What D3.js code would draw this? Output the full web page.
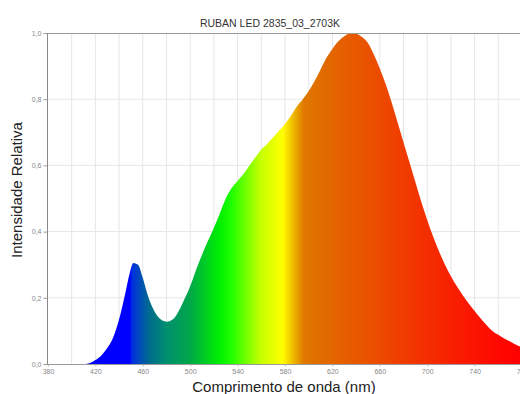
<!DOCTYPE html>
<html>
<head>
<meta charset="utf-8">
<script src="https://cdn.jsdelivr.net/npm/d3@7"></script>
<style>
  body { margin: 0; background: #fff; }
  svg { display: block; font-family: "Liberation Sans", Arial, sans-serif; }
</style>
</head>
<body>
<div class="area"></div>
<script>
var wavelength = [412, 416, 420, 425, 430, 435, 440, 445, 449, 452, 456, 460, 464, 468, 473, 480, 486, 490, 495,
  500, 505, 510, 515, 520, 525, 530, 535, 540, 545, 550, 555, 560, 565, 570, 575, 580, 585, 590, 595,
  600, 605, 610, 615, 620, 625, 630, 635, 640, 645, 650, 655, 660, 665, 670, 675, 680, 685, 690, 695,
  700, 705, 710, 715, 720, 725, 730, 735, 740, 745, 750, 755, 760, 765, 770, 775, 780];
var intensity = [0, 0.004, 0.012, 0.026, 0.048, 0.08, 0.135, 0.21, 0.275, 0.305, 0.3, 0.26, 0.21, 0.172, 0.142, 0.128, 0.137, 0.158, 0.195,
  0.235, 0.285, 0.33, 0.372, 0.412, 0.455, 0.5, 0.532, 0.553, 0.574, 0.6, 0.625, 0.648, 0.665, 0.685, 0.705, 0.725, 0.75, 0.778, 0.8,
  0.825, 0.855, 0.89, 0.925, 0.952, 0.975, 0.99, 0.999, 0.998, 0.988, 0.97, 0.935, 0.893, 0.845, 0.79, 0.73, 0.67, 0.61, 0.55, 0.49,
  0.435, 0.385, 0.34, 0.3, 0.265, 0.235, 0.208, 0.183, 0.16, 0.138, 0.118, 0.1, 0.088, 0.077, 0.068, 0.058, 0.05];
var xTicks = [380, 420, 460, 500, 540, 580, 620, 660, 700, 740, 780];
var yTicks = [0, 0.2, 0.4, 0.6, 0.8, 1.0];

// colour of the light at each wavelength
var stopNm = [380, 449, 451, 465, 480, 500, 525, 535, 560, 578, 586, 596, 610, 640, 680, 720, 760, 780];
var stopColor = ['#0000ff', '#0000ff', '#0030e0', '#006a90', '#008f6e', '#00a848', '#00f000', '#20ff00', '#c8ff00',
  '#ffff00', '#f0c000', '#e07800', '#e06c00', '#e85800', '#f03c00', '#f82000', '#ff0800', '#ff0000'];

var width = 520, height = 394;
var pLeft = 48, pRight = 522, pTop = 33, pBottom = 364;

var svg = d3.select(".area")
    .append("svg")
    .attr('width', width)
    .attr('height', height);

var x = d3.scaleLinear().domain([380, 780]).range([pLeft, pRight]);
var y = d3.scaleLinear().domain([0, 1]).range([pBottom, pTop]);

// grid
svg.append("g")
    .selectAll("line")
    .data(d3.range(400, 781, 20))
    .join("line")
    .attr("x1", d => x(d)).attr("x2", d => x(d))
    .attr("y1", pTop).attr("y2", pBottom)
    .style("stroke", "#e6e6e6")
    .style("stroke-width", 1);

svg.append("g")
    .selectAll("line")
    .data(yTicks.slice(1, -1))
    .join("line")
    .attr("x1", pLeft).attr("x2", pRight)
    .attr("y1", d => y(d)).attr("y2", d => y(d))
    .style("stroke", "#e6e6e6")
    .style("stroke-width", 1);

// spectrum gradient
var grad = svg.append("defs").append("linearGradient")
    .attr("id", "spectrum")
    .attr("gradientUnits", "userSpaceOnUse")
    .attr("x1", x(380)).attr("x2", x(780))
    .attr("y1", 0).attr("y2", 0);

grad.selectAll("stop")
    .data(stopNm)
    .join("stop")
    .attr("offset", d => (d - 380) / 400)
    .attr("stop-color", (d, i) => stopColor[i]);

var pts = wavelength.map((w, i) => [w, intensity[i]]);

var area = d3.area()
    .x(d => x(d[0]))
    .y0(y(0))
    .y1(d => y(d[1]))
    .curve(d3.curveMonotoneX);

svg.append("path")
    .datum(pts)
    .attr("d", area)
    .attr("fill", "url(#spectrum)");

// frame
svg.append("line")
    .attr("x1", pLeft).attr("x2", pRight)
    .attr("y1", pTop + 0.5).attr("y2", pTop + 0.5)
    .style("stroke", "#999").style("stroke-width", 1);

svg.append("line")
    .attr("x1", pLeft).attr("x2", pRight)
    .attr("y1", pBottom + 0.5).attr("y2", pBottom + 0.5)
    .style("stroke", "#999").style("stroke-width", 1);

svg.append("line")
    .attr("x1", pLeft - 0.5).attr("x2", pLeft - 0.5)
    .attr("y1", pTop).attr("y2", pBottom + 1)
    .style("stroke", "#888").style("stroke-width", 1);

// y ticks
var yAxis = svg.append("g")
    .attr("transform", "translate(" + (pLeft - 0.5) + ",0)")
    .call(d3.axisLeft(y).tickValues(yTicks).tickSize(4).tickPadding(2)
      .tickFormat(d => d3.format(".1f")(d).replace(".", ",")));
yAxis.select(".domain").remove();
yAxis.selectAll("line").style("stroke", "#999");
yAxis.selectAll("text").style("font-size", "7px").attr("fill", "#888");

// x ticks
var xAxis = svg.append("g")
    .attr("transform", "translate(0," + (pBottom + 0.5) + ")")
    .call(d3.axisBottom(x).tickValues(xTicks).tickSize(2).tickPadding(3));
xAxis.select(".domain").remove();
xAxis.selectAll("line").style("stroke", "#bbb");
xAxis.selectAll("text").style("font-size", "7px").attr("fill", "#888");

// titles
svg.append('text')
    .attr('x', 270)
    .attr('y', 27)
    .text("RUBAN LED 2835_03_2703K")
    .style('font-size', '10.5px')
    .attr("text-anchor", "middle")
    .attr("fill", "#333");

svg.append('text')
    .attr('transform', 'translate(22,190) rotate(-90)')
    .text("Intensidade Relativa")
    .style('font-size', '15px')
    .attr("text-anchor", "middle")
    .attr("fill", "#222");

svg.append('text')
    .attr('x', 284)
    .attr('y', 392)
    .text("Comprimento de onda (nm)")
    .style('font-size', '15px')
    .attr("text-anchor", "middle")
    .attr("fill", "#222");
</script>
</body>
</html>
